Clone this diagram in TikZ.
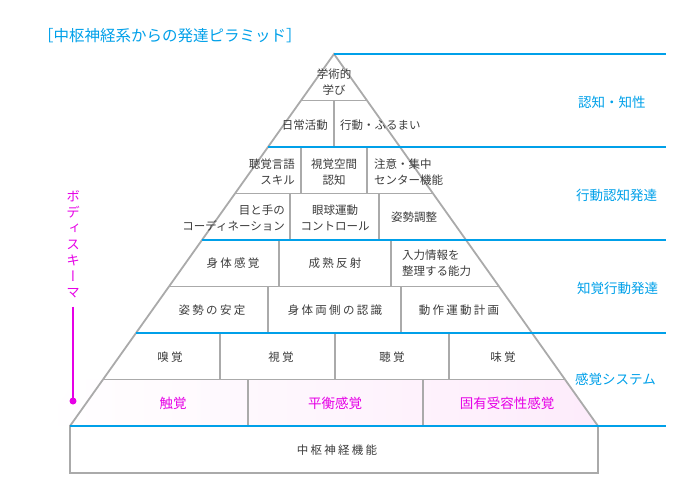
\documentclass[tikz,border=0pt]{standalone}
\usepackage{fontspec}
\setmainfont{Noto Sans CJK JP}
\newfontfamily\jpsp[LetterSpace=20]{Noto Sans CJK JP}
\newfontfamily\jpvert[RawFeature=+vert]{Noto Sans CJK JP}
\usepackage{xcolor}
\usepackage{tikz}
\usetikzlibrary{positioning}
\definecolor{lineblue}{RGB}{0,160,233}
\definecolor{linegray}{RGB}{170,170,170}
\definecolor{textgray}{RGB}{60,60,60}
\definecolor{bodypink}{RGB}{230,0,230}
\definecolor{bandpink}{RGB}{251,212,246}

\begin{document}
\begin{tikzpicture}[x=1pt, y=-1pt,
    cell/.style={font=\fontsize{11.5}{16}\selectfont, text=textgray, inner sep=0pt, align=center},
    cellsp/.style={cell, font=\fontsize{11.5}{16}\jpsp},
    level/.style={font=\fontsize{13.5}{16}\selectfont, text=lineblue, anchor=west, inner sep=0pt},
    sense/.style={font=\fontsize{13.5}{16}\selectfont, text=bodypink, inner sep=0pt},
    grayline/.style={draw=linegray, line width=1.8pt},
    blueline/.style={draw=lineblue, line width=2.4pt}]
    \useasboundingbox (0,0) rectangle (700,500);

    % Title
    \node[font=\fontsize{15.5}{18}\selectfont, text=lineblue, anchor=west, inner sep=0pt] (title) at (38,36) {［中枢神経系からの発達ピラミッド］};

    % Pink band
    \shade[left color=white, middle color=bandpink, right color=bandpink!45] (43,426) -- (76,379.5) -- (565,379.5) -- (598,426) -- cycle;

    % Pyramid
    \draw[grayline] (70,426) -- (334,54) -- (598,426);
    \draw[grayline] (301,100.5) -- (367,100.5);
    \draw[grayline] (235,193.5) -- (433,193.5);
    \draw[grayline] (169,286.5) -- (499,286.5);
    \draw[grayline] (103,379.5) -- (565,379.5);
    \draw[grayline] (334,100.5) -- (334,147);
    \draw[grayline] (301,147) -- (301,193.5);
    \draw[grayline] (367,147) -- (367,193.5);
    \draw[grayline] (290,193.5) -- (290,240);
    \draw[grayline] (379,193.5) -- (379,240);
    \draw[grayline] (279,240) -- (279,286.5);
    \draw[grayline] (391,240) -- (391,286.5);
    \draw[grayline] (268,286.5) -- (268,333);
    \draw[grayline] (401,286.5) -- (401,333);
    \foreach \x in {220,335,449}
        \draw[grayline] (\x,333) -- (\x,379.5);
    \draw[grayline] (248,379.5) -- (248,426);
    \draw[grayline] (423,379.5) -- (423,426);
    \draw[grayline] (70,426) rectangle (598,473);

    % Levels
    \foreach \y/\xa in {54/334, 147/268, 240/202, 333/136, 426/70}
        \draw[blueline] (\xa,\y) -- (666,\y);

    % Cells
    \node[cell] (study) at (334,82) {学術的\\学び};
    \node[cell, anchor=east] (daily) at (328,125) {日常活動};
    \node[cell, anchor=west] (behave) at (340,125) {行動・ふるまい};
    \node[cell, anchor=east, align=right] (hearing) at (295,172) {聴覚言語\\スキル};
    \node[cell] (visual) at (334,172) {視覚空間\\認知};
    \node[cell, anchor=west, align=left] (attention) at (374,172) {注意・集中\\センター機能};
    \node[cell, anchor=east, align=right] (eyehand) at (285,218) {目と手の\\コーディネーション};
    \node[cell] (eyeball) at (335,218) {眼球運動\\コントロール};
    \node[cell] (posture) at (414,217) {姿勢調整};
    \node[cellsp] (bodysense) at (233,263) {身体感覚};
    \node[cellsp] (reflex) at (335,263) {成熟反射};
    \node[cell, anchor=west, align=left] (input) at (402,263) {入力情報を\\整理する能力};
    \node[cellsp] (stable) at (212,310) {姿勢の安定};
    \node[cellsp] (bilateral) at (335,310) {身体両側の認識};
    \node[cellsp] (planning) at (459,310) {動作運動計画};
    \node[cellsp] (smell) at (170,357) {嗅覚};
    \node[cellsp] (sight) at (281,357) {視覚};
    \node[cellsp] (hear) at (392,357) {聴覚};
    \node[cellsp] (taste) at (503,357) {味覚};
    \node[sense] (touch) at (173,403) {触覚};
    \node[sense] (balance) at (335,403) {平衡感覚};
    \node[sense] (proprio) at (507,403) {固有受容性感覚};
    \node[cellsp] (cns) at (337,450) {中枢神経機能};

    % Level labels
    \node[level] (cognition) at (578,102) {認知・知性};
    \node[level] (actcog) at (576,195) {行動認知発達};
    \node[level] (percept) at (577,288) {知覚行動発達};
    \node[level] (sensory) at (575,379) {感覚システム};

    % Body schema
    \node[font=\fontsize{13.5}{16}\jpvert, text=bodypink, align=center, inner sep=0pt, anchor=north] (schema) at (73,190) {ボ\\デ\\ィ\\ス\\キ\\ー\\マ};
    \coordinate (schemadot) at (73,401);
    \draw[bodypink, line width=2pt] ([yshift=-9pt]schema.south) -- (schemadot);
    \fill[bodypink] (schemadot) circle (3.5pt);
\end{tikzpicture}
\end{document}
